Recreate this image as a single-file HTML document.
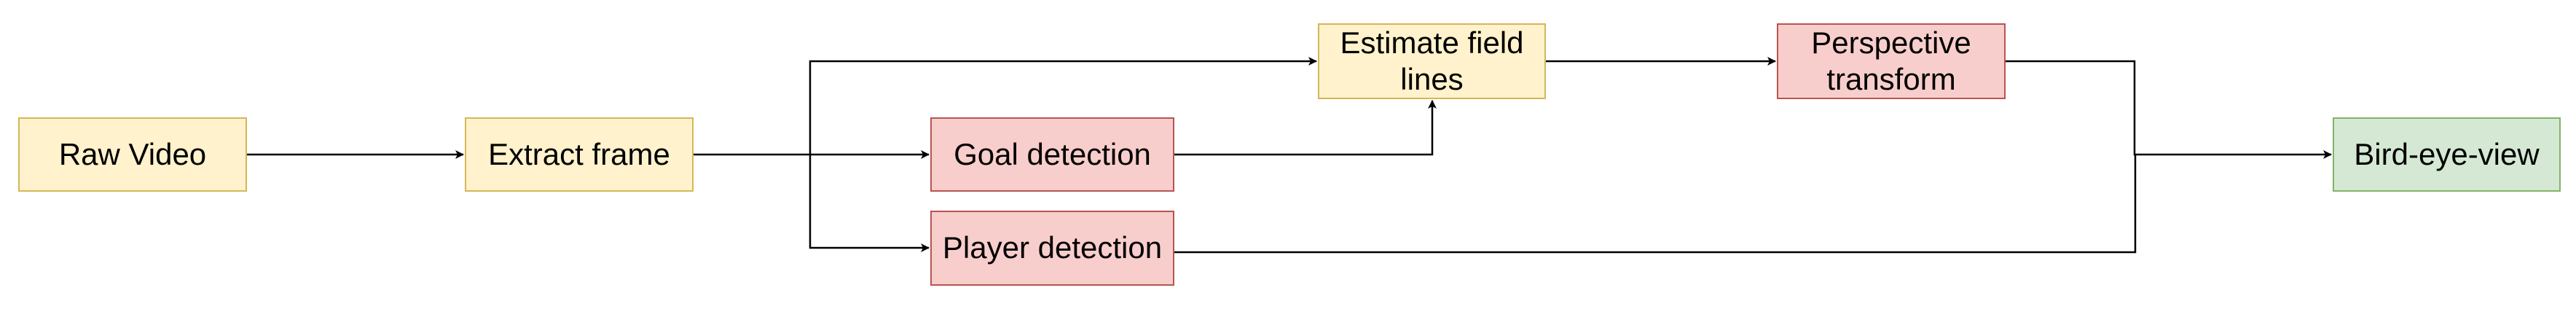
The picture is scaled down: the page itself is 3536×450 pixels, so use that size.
<!DOCTYPE html>
<html><head><style>
body{margin:0;background:#fff;}
.b{position:absolute;box-sizing:border-box;border:2px solid;display:flex;align-items:center;justify-content:center;text-align:center;font-family:"Liberation Sans",Arial,sans-serif;font-size:42px;line-height:1.2;color:#000;}
.y{background:#fff2cc;border-color:#d6b656;}
.r{background:#f8cecc;border-color:#b85450;}
.g{background:#d5e8d4;border-color:#82b366;}
</style></head><body>
<div style="position:relative;width:3536px;height:450px;overflow:hidden">
<svg width="3536" height="450" style="position:absolute;left:0;top:0">
<defs><marker id="a" markerWidth="12" markerHeight="12" refX="11" refY="6" orient="auto" markerUnits="userSpaceOnUse"><path d="M0,0 L12,6 L0,12 L3,6 Z" fill="#000"/></marker></defs>
<g stroke="#000" stroke-width="2.5" fill="none">
<path d="M339,212 H636" marker-end="url(#a)"/>
<path d="M952,212 H1112 V84 H1807" marker-end="url(#a)"/>
<path d="M1112,212 H1275" marker-end="url(#a)"/>
<path d="M1112,212 V340 H1275" marker-end="url(#a)"/>
<path d="M1612,212 H1966 V138" marker-end="url(#a)"/>
<path d="M2122,84 H2437" marker-end="url(#a)"/>
<path d="M2753,84 H2930 V212 H3200" marker-end="url(#a)"/>
<path d="M1612,346 H2931 V212"/>
</g></svg>
<div class="b y" style="left:25px;top:161px;width:314px;height:102px">Raw Video</div>
<div class="b y" style="left:638px;top:161px;width:314px;height:102px">Extract frame</div>
<div class="b r" style="left:1277px;top:161px;width:335px;height:102px">Goal detection</div>
<div class="b r" style="left:1277px;top:289px;width:335px;height:103px">Player detection</div>
<div class="b y" style="left:1809px;top:32px;width:313px;height:104px">Estimate field<br>lines</div>
<div class="b r" style="left:2439px;top:32px;width:314px;height:104px">Perspective<br>transform</div>
<div class="b g" style="left:3202px;top:161px;width:313px;height:102px">Bird-eye-view</div>
</div>
</body></html>
